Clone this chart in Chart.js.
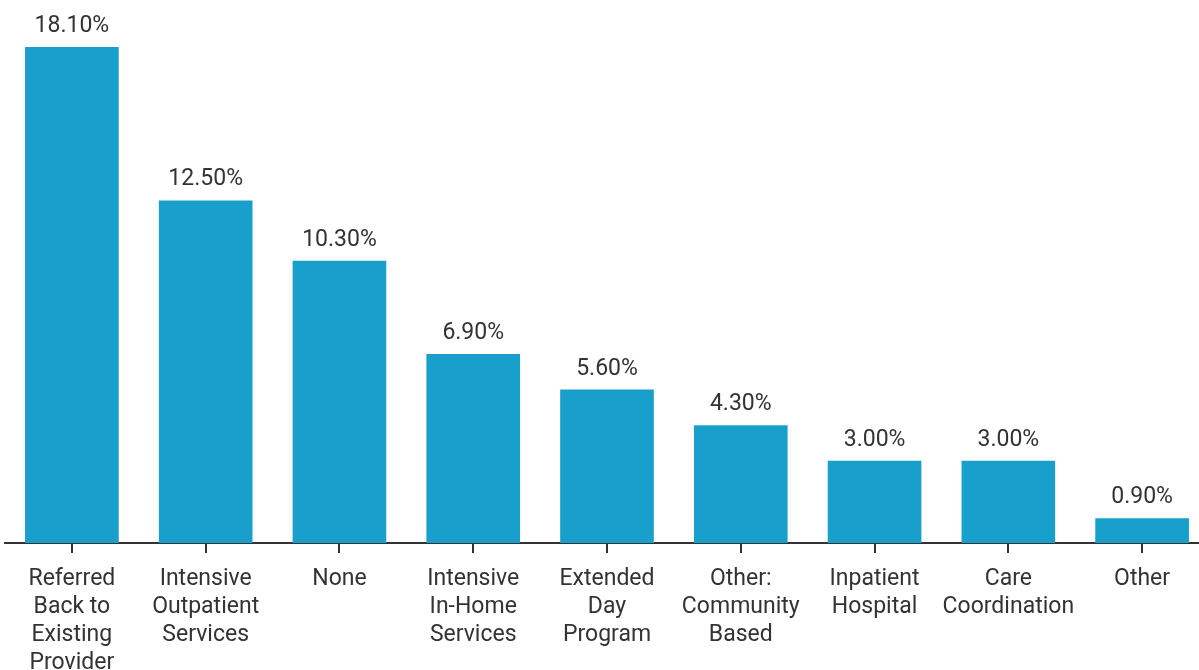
<!DOCTYPE html>
<html>
<head>
<meta charset="utf-8">
<script src="https://cdn.jsdelivr.net/npm/chart.js@4/dist/chart.umd.min.js"></script>
<style>
  html, body { margin: 0; padding: 0; background: #ffffff; overflow: hidden; }
  #wrap { width: 1199px; height: 670px; overflow: hidden; position: relative; }
  canvas { display: block; }
</style>
</head>
<body>
<div id="wrap"><canvas id="c" width="1209" height="670"></canvas></div>
<script>
const categories = [
  ['Referred', 'Back to', 'Existing', 'Provider'],
  ['Intensive', 'Outpatient', 'Services'],
  ['None'],
  ['Intensive', 'In-Home', 'Services'],
  ['Extended', 'Day', 'Program'],
  ['Other:', 'Community', 'Based'],
  ['Inpatient', 'Hospital'],
  ['Care', 'Coordination'],
  ['Other']
];
const values = [18.1, 12.5, 10.3, 6.9, 5.6, 4.3, 3.0, 3.0, 0.9];

const barColor = '#199FCC';
const textColor = '#333333';
const fontFamily = 'Roboto, "Liberation Sans", sans-serif';

const valueLabels = {
  id: 'valueLabels',
  afterDatasetsDraw(chart) {
    const ctx = chart.ctx;
    const meta = chart.getDatasetMeta(0);
    ctx.save();
    ctx.font = '23px ' + fontFamily;
    ctx.fillStyle = textColor;
    ctx.textAlign = 'center';
    ctx.textBaseline = 'alphabetic';
    meta.data.forEach((bar, i) => {
      const v = chart.data.datasets[0].data[i];
      ctx.fillText(v.toFixed(2) + '%', bar.x, bar.y - 15);
    });
    ctx.restore();
  }
};

new Chart(document.getElementById('c'), {
  type: 'bar',
  data: {
    labels: categories,
    datasets: [{
      data: values,
      backgroundColor: barColor,
      borderWidth: 0,
      categoryPercentage: 0.7,
      barPercentage: 1.0
    }]
  },
  options: {
    responsive: false,
    animation: false,
    layout: { padding: { left: 5, right: 0, top: 47, bottom: 0 } },
    plugins: { legend: { display: false }, tooltip: { enabled: false } },
    scales: {
      x: {
        grid: { display: true, offset: false, drawOnChartArea: false, drawTicks: true, tickLength: 10, color: textColor, lineWidth: 2 },
        border: { display: true, color: textColor, width: 2 },
        ticks: {
          color: textColor,
          font: { family: fontFamily, size: 23, lineHeight: 1.22 },
          padding: 12,
          autoSkip: false,
          maxRotation: 0,
          minRotation: 0
        },
        afterFit(scale) { scale.height = 127; }
      },
      y: {
        display: false,
        min: 0,
        max: 18.1
      }
    }
  },
  plugins: [valueLabels]
});
</script>
</body>
</html>
